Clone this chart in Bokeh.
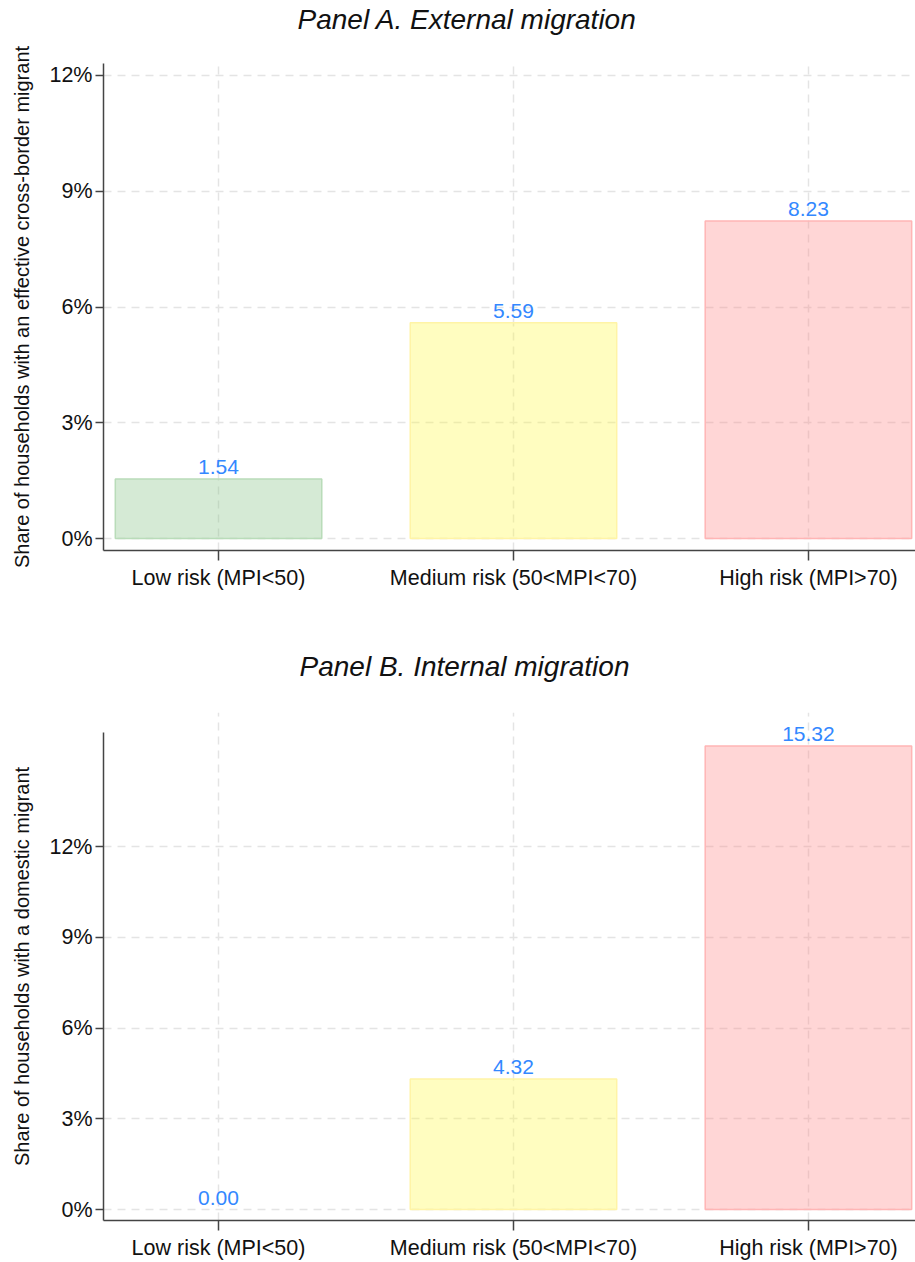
from bokeh.plotting import figure
from bokeh.models import ColumnDataSource, FixedTicker, Range1d, LabelSet, Title
from bokeh.layouts import column
from bokeh.embed import file_html
from bokeh.resources import INLINE
from bokeh.core.properties import value

# ---- data ----
categories = ["Low risk (MPI<50)", "Medium risk (50<MPI<70)", "High risk (MPI>70)"]
positions = [0, 1, 2]
external = [1.54, 5.59, 8.23]
internal = [0.00, 4.32, 15.32]
fill_colors = ["#87c387", "#fff94b", "#ff8a8a"]
line_colors = ["#b9dcb9", "#fff4a6", "#ffb5b5"]
y_ticks = [0, 3, 6, 9, 12]
y_tick_labels = ["0%", "3%", "6%", "9%", "12%"]

FONT = "Liberation Sans"


def make_panel(title, ylabel, values, y_start, y_axis_end, y_end, height, border_top,
               border_bottom, title_offset, spacer):
    src = ColumnDataSource(dict(
        x=positions,
        top=values,
        fill=fill_colors,
        line=line_colors,
        line_alpha=[0.0 if v == 0 else 1.0 for v in values],
        label=["%.2f" % v for v in values],
    ))
    p = figure(width=915, height=height, output_backend="svg", toolbar_location=None,
               x_range=Range1d(-0.39, 2.363), y_range=Range1d(y_start, y_end),
               min_border_left=103, min_border_right=0,
               min_border_top=border_top, min_border_bottom=border_bottom)
    p.outline_line_color = None
    p.background_fill_color = "white"
    p.border_fill_color = "white"

    # spacer between frame and title, then the title itself
    p.add_layout(Title(text=" ", text_font_size="1px", standoff=spacer), "above")
    p.add_layout(Title(text=title, align="left", offset=title_offset, standoff=2,
                       text_font=FONT, text_font_size="28px", text_font_style="italic",
                       text_color="#111111"), "above")

    p.vbar(x="x", top="top", bottom=0, width=0.7, source=src,
           fill_color="fill", fill_alpha=0.35, line_color="line", line_alpha="line_alpha",
           line_width=1.5)
    labels = LabelSet(x="x", y="top", text="label", source=src, text_align="center",
                      text_baseline="bottom", y_offset=5, text_color="#3388ff",
                      text_font_size="21px", text_font=value(FONT))
    p.add_layout(labels)

    # axes
    p.xaxis.ticker = FixedTicker(ticks=positions)
    p.xaxis.major_label_overrides = {i: c for i, c in zip(positions, categories)}
    p.yaxis.ticker = FixedTicker(ticks=y_ticks)
    p.yaxis.major_label_overrides = {t: l for t, l in zip(y_ticks, y_tick_labels)}
    p.yaxis.bounds = (y_start, y_axis_end)
    for ax in (p.xaxis, p.yaxis):
        ax.minor_tick_line_color = None
        ax.axis_line_color = "#444444"
        ax.axis_line_width = 1.5
        ax.major_tick_line_color = "#444444"
        ax.major_tick_line_width = 1.5
        ax.major_tick_in = 0
        ax.major_label_text_font = FONT
        ax.major_label_text_font_size = "21.5px"
        ax.major_label_text_color = "#111111"
    p.xaxis.major_tick_out = 10
    p.yaxis.major_tick_out = 8
    p.xaxis.major_label_standoff = 5
    p.yaxis.major_label_standoff = 3
    p.yaxis.axis_label = ylabel
    p.yaxis.axis_label_text_font = FONT
    p.yaxis.axis_label_text_font_size = "20px"
    p.yaxis.axis_label_text_font_style = "normal"
    p.yaxis.axis_label_text_color = "#111111"
    p.yaxis.axis_label_standoff = 13

    # grids
    p.xgrid.ticker = FixedTicker(ticks=positions)
    p.ygrid.ticker = FixedTicker(ticks=y_ticks)
    for g in (p.xgrid, p.ygrid):
        g.grid_line_color = "#e4e4e4"
        g.grid_line_width = 1.5
        g.grid_line_dash = "8 6"
    return p


pA = make_panel("Panel A. External migration",
                "Share of households with an effective cross-border migrant",
                external, -0.31, 12.31, 12.31, 630, 62, 80, 194, 25)
pB = make_panel("Panel B. Internal migration",
                "Share of households with a domestic migrant",
                internal, -0.36, 15.77, 16.43, 632, 82, 42, 196, 27)

layout = column(pA, pB, spacing=0)
open("out.html", "w").write(file_html(layout, INLINE))
